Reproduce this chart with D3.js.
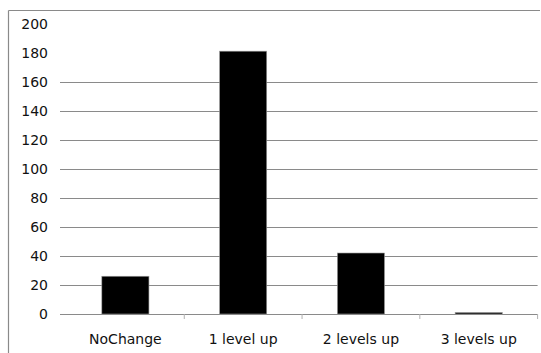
<!DOCTYPE html>
<html>
<head>
<meta charset="utf-8">
<script src="https://cdn.jsdelivr.net/npm/d3@7"></script>
<style>
  html, body { margin: 0; padding: 0; background: #fff; }
  svg { display: block; }
  text { font-family: "DejaVu Sans", sans-serif; font-size: 14px; fill: #111; }
</style>
</head>
<body>
<svg id="chart" width="541" height="353"></svg>
<script>
// Number of records per level change
const categories = ["NoChange", "1 level up", "2 levels up", "3 levels up"];
const counts = [26, 181, 42, 1];
const yTicks = [0, 20, 40, 60, 80, 100, 120, 140, 160, 180, 200];
const gridValues = [20, 40, 60, 80, 100, 120, 140, 160];

const svg = d3.select("#chart");
const W = 541, H = 353;
const plot = { left: 66.5, right: 537.6, top: 23.6, bottom: 314 };

const x = d3.scaleBand().domain(categories).range([plot.left, plot.right]).padding(0);
const y = d3.scaleLinear().domain([0, 200]).range([plot.bottom, plot.top]);

// chart frame (top and left edges)
svg.append("line").attr("x1", 8.5).attr("x2", 540).attr("y1", 10.5).attr("y2", 10.5)
  .attr("stroke", "#8a8a8a").attr("stroke-width", 1.2);
svg.append("line").attr("x1", 8.5).attr("x2", 8.5).attr("y1", 10.5).attr("y2", H)
  .attr("stroke", "#8a8a8a").attr("stroke-width", 1.2);

// horizontal gridlines
svg.append("g").selectAll("line").data(gridValues).join("line")
  .attr("x1", 60).attr("x2", plot.right)
  .attr("y1", d => Math.round(y(d)) + 0.5).attr("y2", d => Math.round(y(d)) + 0.5)
  .attr("stroke", "#8a8a8a").attr("stroke-width", 1);

// y tick labels
svg.append("g").selectAll("text").data(yTicks).join("text")
  .attr("x", 48).attr("y", d => y(d)).attr("dy", "0.36em")
  .attr("text-anchor", "end").text(d => d);

// bars
const barW = x.bandwidth() * 0.4;
svg.append("g").selectAll("rect").data(counts).join("rect")
  .attr("x", (d, i) => x(categories[i]) + (x.bandwidth() - barW) / 2)
  .attr("y", d => y(d))
  .attr("width", barW)
  .attr("height", d => y(0) - y(d))
  .attr("fill", "#000")
  .attr("stroke", "#999").attr("stroke-width", 0.6);

// category axis
const xAxis = d3.axisBottom(x).tickSize(0).tickFormat("");
svg.append("line").attr("x1", 60).attr("x2", plot.right)
  .attr("y1", plot.bottom + 0.5).attr("y2", plot.bottom + 0.5)
  .attr("stroke", "#8a8a8a").attr("stroke-width", 1);
svg.append("g").selectAll("line").data(categories).join("line")
  .attr("x1", d => x(d) + x.bandwidth()).attr("x2", d => x(d) + x.bandwidth())
  .attr("y1", plot.bottom).attr("y2", plot.bottom + 5)
  .attr("stroke", "#b0b0b0").attr("stroke-width", 1);

svg.append("g").selectAll("text").data(categories).join("text")
  .attr("x", d => x(d) + x.bandwidth() / 2)
  .attr("y", 344)
  .attr("text-anchor", "middle").text(d => d);
</script>
</body>
</html>
